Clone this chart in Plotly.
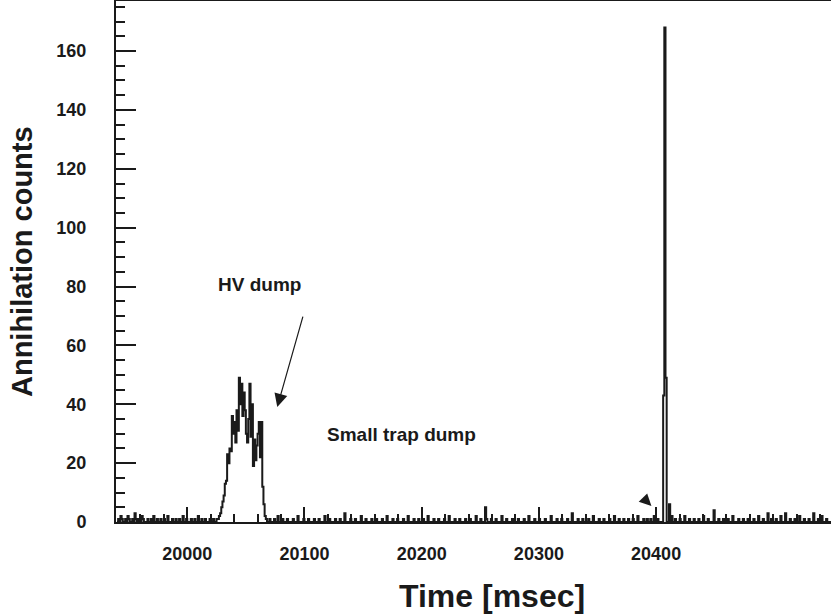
import numpy as np
import plotly.graph_objects as go

# ---- data (1 ms bins) ----
bin_start = 19940
bin_width = 1
n_bins = 610

# non-zero bins: time [msec] and annihilation counts
hit_times = [
    19941, 19943, 19944, 19947, 19949, 19950, 19953, 19955, 19956, 19958,
    19961, 19962, 19966, 19969, 19971, 19974, 19977, 19980, 19983, 19987,
    19990, 19993, 19996, 19999, 20003, 20006, 20009, 20012, 20015, 20019,
    20022, 20025,
    20026, 20027, 20028, 20029, 20030, 20031, 20032, 20033, 20034, 20035,
    20036, 20037, 20038, 20039, 20040, 20041, 20042, 20043, 20044, 20045,
    20046, 20047, 20048, 20049, 20050, 20051, 20052, 20053, 20054, 20055,
    20056, 20057, 20058, 20059, 20060, 20061, 20062, 20063, 20064, 20065,
    20066, 20067,
    20070, 20074, 20077, 20081, 20085, 20090, 20094, 20099, 20103, 20108,
    20112, 20117, 20121, 20126, 20130, 20134, 20139, 20143, 20148, 20152,
    20157, 20161, 20166, 20170, 20175, 20179, 20184, 20188, 20193, 20197,
    20201, 20205, 20210, 20214, 20219, 20223, 20228, 20232, 20237, 20241,
    20246, 20250, 20254, 20255, 20259, 20263, 20268, 20272, 20277, 20282,
    20287, 20291, 20296, 20300, 20305, 20310, 20315, 20319, 20324, 20328,
    20333, 20337, 20342, 20346, 20351, 20355, 20360, 20364, 20368, 20372,
    20376, 20380, 20384, 20389, 20392, 20395, 20398, 20401,
    20406, 20407, 20408, 20411, 20413,
    20416, 20420, 20424, 20428, 20432, 20436, 20440, 20444, 20449, 20453,
    20457, 20461, 20465, 20470, 20474, 20478, 20483, 20487, 20491, 20495,
    20498, 20502, 20506, 20510, 20514, 20518, 20522, 20526, 20530, 20534,
    20538, 20541, 20545,
]
hit_counts = [
    1, 2, 1, 1, 2, 1, 1, 3, 1, 1,
    2, 1, 1, 1, 2, 1, 1, 1, 2, 1,
    1, 1, 2, 1, 1, 1, 2, 1, 1, 1,
    1, 1,
    1, 2, 3, 5, 7, 9, 13, 14, 23, 20,
    25, 24, 36, 30, 34, 27, 38, 31, 49, 40,
    47, 36, 44, 38, 30, 27, 35, 47, 29, 40,
    19, 28, 21, 26, 30, 34, 22, 34, 12, 6,
    2, 1,
    1, 1, 2, 1, 1, 1, 2, 1, 1, 1,
    1, 2, 1, 1, 1, 3, 1, 1, 2, 1,
    1, 1, 1, 2, 1, 1, 1, 2, 1, 1,
    1, 2, 1, 1, 1, 2, 1, 1, 1, 1,
    2, 1, 5, 1, 1, 1, 2, 1, 1, 1,
    1, 2, 1, 1, 1, 2, 1, 1, 1, 3,
    1, 1, 1, 2, 1, 1, 1, 2, 1, 1,
    1, 1, 2, 1, 1, 1, 2, 1,
    43, 168, 49, 6, 2,
    1, 1, 2, 1, 1, 1, 2, 1, 4, 1,
    1, 1, 2, 1, 1, 1, 1, 2, 1, 3,
    1, 1, 2, 3, 1, 1, 2, 1, 1, 3,
    1, 2, 1,
]

y_major_ticks = [0, 20, 40, 60, 80, 100, 120, 140, 160]
x_major_ticks = [20000, 20100, 20200, 20300, 20400]

counts = np.zeros(n_bins)
for t, c in zip(hit_times, hit_counts):
    counts[int((t - bin_start) // bin_width)] = c
edges = bin_start + bin_width * np.arange(n_bins + 1)
y_step = np.append(counts, counts[-1])

FONT = "Liberation Sans"
INK = "#1a1a1a"

fig = go.Figure()
fig.add_trace(go.Scatter(
    x=edges, y=y_step, mode="lines", line_shape="hv",
    line=dict(color=INK, width=2), hoverinfo="skip", showlegend=False,
))

fig.update_layout(
    width=831, height=615,
    margin=dict(l=116, r=0, t=1, b=93),
    paper_bgcolor="white", plot_bgcolor="white",
    font=dict(family=FONT, color=INK),
    xaxis=dict(
        range=[19939.2, 20549.2], showgrid=False, zeroline=False,
        showline=True, linecolor=INK, linewidth=2, mirror=True,
        ticks="inside", ticklen=15, tickwidth=2, tickcolor=INK,
        tickvals=x_major_ticks, ticktext=[str(v) for v in x_major_ticks],
        tickfont=dict(family=FONT, size=18, weight="bold", color=INK),
        ticklabelstandoff=14,
        minor=dict(dtick=20, ticks="inside", ticklen=8, tickwidth=2, tickcolor=INK),
    ),
    yaxis=dict(
        range=[0, 177], showgrid=False, zeroline=False,
        showline=True, linecolor=INK, linewidth=2, mirror=False,
        ticks="inside", ticklen=20, tickwidth=2, tickcolor=INK,
        tickvals=y_major_ticks, ticktext=[str(v) for v in y_major_ticks],
        tickfont=dict(family=FONT, size=18, weight="bold", color=INK),
        ticklabelstandoff=24,
        minor=dict(dtick=5, ticks="inside", ticklen=9, tickwidth=2, tickcolor=INK),
    ),
)

ann_font = dict(family=FONT, size=19, weight="bold", color=INK)
fig.add_annotation(x=20062, y=80.8, text="HV dump", showarrow=False,
                   font=ann_font, xanchor="center", yanchor="middle")
fig.add_annotation(x=20183, y=29.7, text="Small trap dump", showarrow=False,
                   font=ann_font, xanchor="center", yanchor="middle")
fig.add_annotation(x=20076.8, y=39.1, ax=20099, ay=70.3, axref="x", ayref="y",
                   text="", showarrow=True, arrowhead=2, arrowsize=2.2,
                   arrowwidth=1.2, arrowcolor=INK)
fig.add_annotation(x=20396, y=5.4, ax=-9, ay=-9, text="", showarrow=True,
                   arrowhead=2, arrowsize=2.0, arrowwidth=1.2, arrowcolor=INK)

fig.add_annotation(xref="paper", yref="paper", x=(22 - 116) / 715, y=0.499,
                   text="Annihilation counts", textangle=-90, showarrow=False,
                   xanchor="center", yanchor="middle",
                   font=dict(family=FONT, size=29, weight="bold", color=INK))
fig.add_annotation(xref="paper", yref="paper", x=(492 - 116) / 715, y=(522 - 596) / 521,
                   text="Time [msec]", showarrow=False,
                   xanchor="center", yanchor="middle",
                   font=dict(family=FONT, size=32, weight="bold", color=INK))

fig.write_html("out.html")
